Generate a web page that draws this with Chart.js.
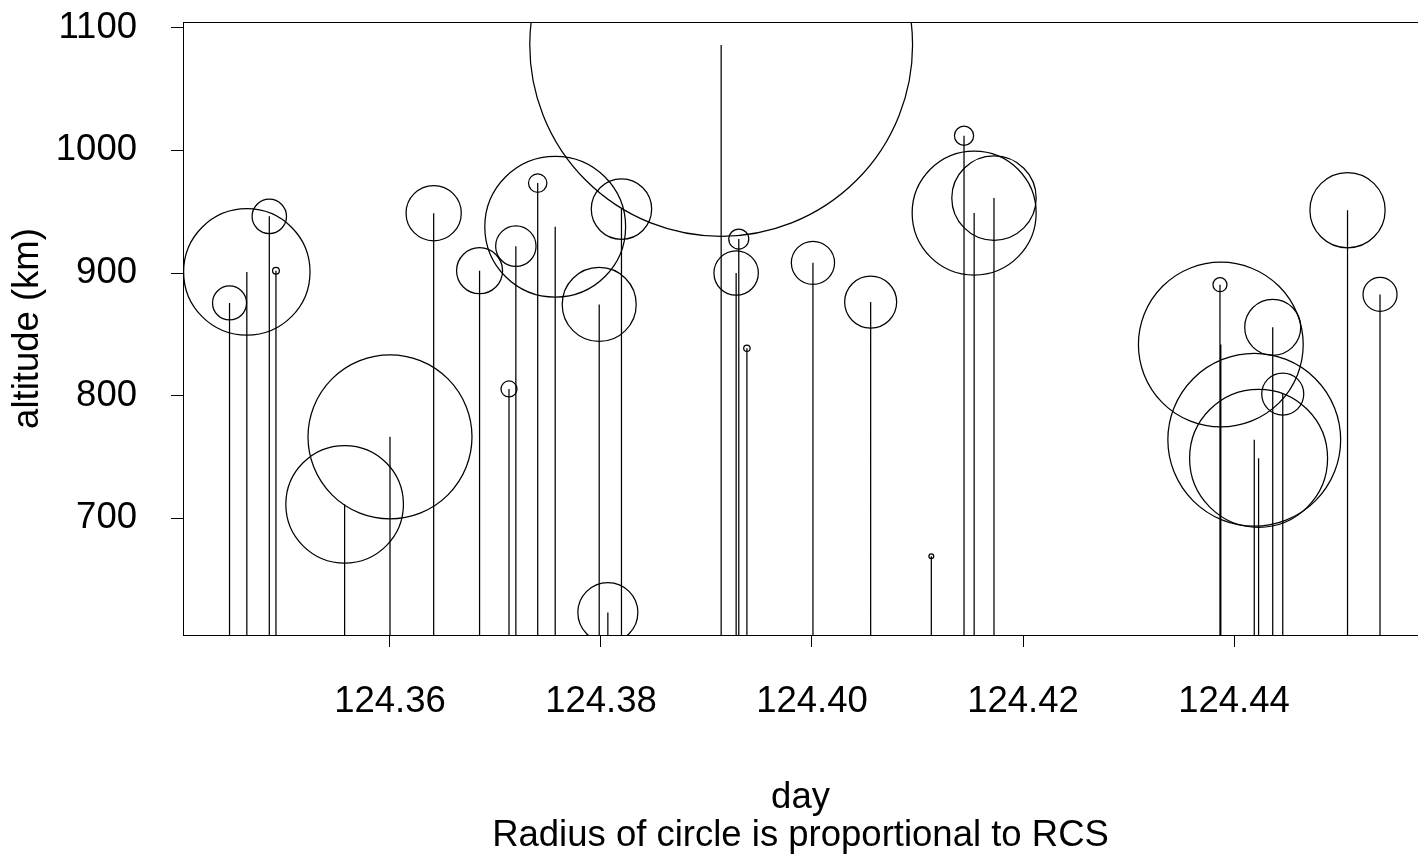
<!DOCTYPE html>
<html>
<head>
<meta charset="utf-8">
<title>Altitude by day</title>
<script src="https://cdn.jsdelivr.net/npm/chart.js@4/dist/chart.umd.min.js"></script>
<style>
  html, body { margin: 0; padding: 0; background: #fff; }
  canvas { display: block; }
</style>
</head>
<body>
<canvas id="rcsChart" width="1418" height="859"></canvas>
<script>
// one entry per tracked object
const DAY = [
  124.34479, 124.34643, 124.34856, 124.34919, 124.35570, 124.36000, 124.36414,
  124.36849, 124.37128, 124.37193, 124.37400, 124.37566, 124.37983, 124.38065,
  124.38194, 124.39139, 124.39281, 124.39306, 124.39383, 124.40009, 124.40556,
  124.41131, 124.41441, 124.41537, 124.41725, 124.43867, 124.43875, 124.44192,
  124.44233, 124.44367, 124.44462, 124.45076, 124.45384
];
const ALTITUDE_KM = [
  875.6, 900.9, 946.2, 901.8, 711.5, 766.5, 948.8,
  901.9, 805.5, 921.9, 973.3, 937.7, 874.4, 623.3,
  952.1, 1085.9, 900.0, 927.7, 838.7, 908.3, 876.3,
  669.2, 1011.9, 948.9, 961.1, 890.5, 841.7, 764.1,
  749.0, 855.8, 801.4, 951.2, 882.6
];
const RCS = [
  0.85, 3.16, 0.86, 0.17, 2.94, 4.10, 1.38,
  1.15, 0.40, 1.01, 0.46, 3.52, 1.85, 1.50,
  1.51, 9.57, 1.11, 0.50, 0.16, 1.08, 1.30,
  0.12, 0.48, 3.10, 2.11, 0.35, 4.12, 4.32,
  3.45, 1.40, 1.05, 1.88, 0.85
];

const DAY_TICKS = [124.36, 124.38, 124.40, 124.42, 124.44];
const ALTITUDE_TICKS = [700, 800, 900, 1000, 1100];
const DAY_RANGE = [124.34038, 124.45744];
const ALTITUDE_RANGE = [605.0, 1104.6];

const STEM_BASE = 0;      // stems run up from zero, the plot area cuts them off
const PX_PER_RCS = 20;    // circle radius in pixels per unit of RCS
const FONT = '"Liberation Sans", Arial, Helvetica, sans-serif';
const FONT_SIZE = 36.5;
const INK = '#000000';
const STROKE = 1.25;

// each stem is two points followed by a gap so the line breaks between objects
const stems = [];
DAY.forEach((d, i) => {
  stems.push({ x: d, y: STEM_BASE }, { x: d, y: ALTITUDE_KM[i] }, { x: d, y: null });
});

const circles = DAY.map((d, i) => ({ x: d, y: ALTITUDE_KM[i], r: RCS[i] * PX_PER_RCS }));

const font = { family: FONT, size: FONT_SIZE };

new Chart(document.getElementById('rcsChart'), {
  type: 'bubble',
  data: {
    datasets: [
      {
        type: 'line',
        data: stems,
        borderColor: INK,
        borderWidth: STROKE,
        pointRadius: 0,
        spanGaps: false,
        tension: 0,
        clip: 0
      },
      {
        type: 'bubble',
        data: circles,
        borderColor: INK,
        backgroundColor: 'rgba(0,0,0,0)',
        borderWidth: STROKE,
        clip: 0
      }
    ]
  },
  options: {
    responsive: false,
    animation: false,
    events: [],
    layout: { autoPadding: false, padding: { top: 22, right: 0, bottom: 0, left: 0 } },
    plugins: { legend: { display: false }, tooltip: { enabled: false } },
    scales: {
      x: {
        type: 'linear',
        position: 'bottom',
        min: DAY_RANGE[0],
        max: DAY_RANGE[1],
        afterBuildTicks: s => { s.ticks = DAY_TICKS.map(v => ({ value: v })); },
        afterFit: s => { s.height = 224; s.paddingLeft = 0; s.paddingRight = 0; },
        grid: { drawOnChartArea: false, drawTicks: true, tickLength: 12, color: INK, lineWidth: 1 },
        border: { display: true, color: INK, width: 1 },
        ticks: {
          color: INK,
          font: font,
          padding: 33,
          maxRotation: 0,
          autoSkip: false,
          callback: v => Number(v).toFixed(2)
        },
        title: {
          display: true,
          text: ['day', 'Radius of circle is proportional to RCS'],
          color: INK,
          font: { family: FONT, size: FONT_SIZE, lineHeight: 38 / FONT_SIZE },
          padding: { top: 0, bottom: 4 }
        }
      },
      xTop: {
        type: 'linear',
        position: 'top',
        min: DAY_RANGE[0],
        max: DAY_RANGE[1],
        afterFit: s => { s.height = 0; s.paddingLeft = 0; s.paddingRight = 0; },
        grid: { drawOnChartArea: false, drawTicks: false },
        border: { display: true, color: INK, width: 1 },
        ticks: { display: false }
      },
      y: {
        type: 'linear',
        position: 'left',
        min: ALTITUDE_RANGE[0],
        max: ALTITUDE_RANGE[1],
        afterBuildTicks: s => { s.ticks = ALTITUDE_TICKS.map(v => ({ value: v })); },
        afterFit: s => { s.width = 183; s.paddingTop = 0; s.paddingBottom = 0; },
        grid: { drawOnChartArea: false, drawTicks: true, tickLength: 12, color: INK, lineWidth: 1 },
        border: { display: true, color: INK, width: 1 },
        ticks: {
          color: INK,
          font: font,
          padding: 34,
          autoSkip: false,
          callback: v => String(v)
        },
        title: {
          display: true,
          text: 'altitude (km)',
          color: INK,
          font: { family: FONT, size: FONT_SIZE, lineHeight: 1.1 },
          padding: { top: 8, bottom: 0 }
        }
      }
    }
  }
});
</script>
</body>
</html>
